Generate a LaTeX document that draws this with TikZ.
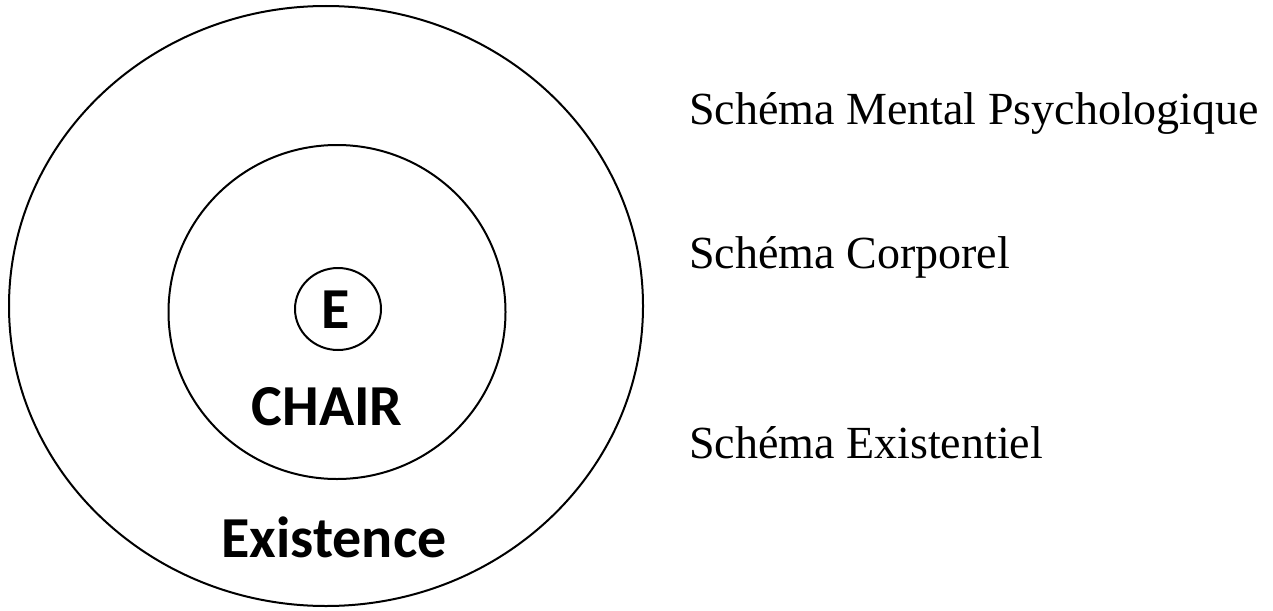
\documentclass[tikz,border=0pt]{standalone}
\usepackage{fontspec}
\setmainfont{Liberation Serif}
\newfontfamily\calibri{Carlito}
\usetikzlibrary{shapes}
\tikzset{
ring/.style={
	  draw, ellipse, line width=2pt, inner sep=0pt},
zone/.style={
	  font=\calibri\bfseries\fontsize{58}{60}\selectfont, inner sep=0pt, anchor=base},
schema/.style={
	  font=\fontsize{46}{50}\selectfont, inner sep=0pt, anchor=base west}
}

\begin{document}
\begin{tikzpicture}[x=1pt, y=-1pt]
	\useasboundingbox (0,0) rectangle (1273,610);
	\node[ring, minimum width=634pt, minimum height=600pt] (exist) at (326,306) {};
	\node[ring, minimum width=337pt, minimum height=334pt] (chair) at (337,312) {};
	\node[ring, minimum width=86pt, minimum height=82pt] (ego) at (338,309) {};
	\node[zone] (e) at (336,328) {E};
	\node[zone] (chairtxt) at (327,425) {CHAIR};
	\node[zone] (existtxt) at (334,557) {Existence};
	\node[schema] (mental) at (689,124) {Schéma Mental Psychologique};
	\node[schema] (corporel) at (689,268) {Schéma Corporel};
	\node[schema] (existentiel) at (689,458) {Schéma Existentiel};
\end{tikzpicture}
\end{document}
